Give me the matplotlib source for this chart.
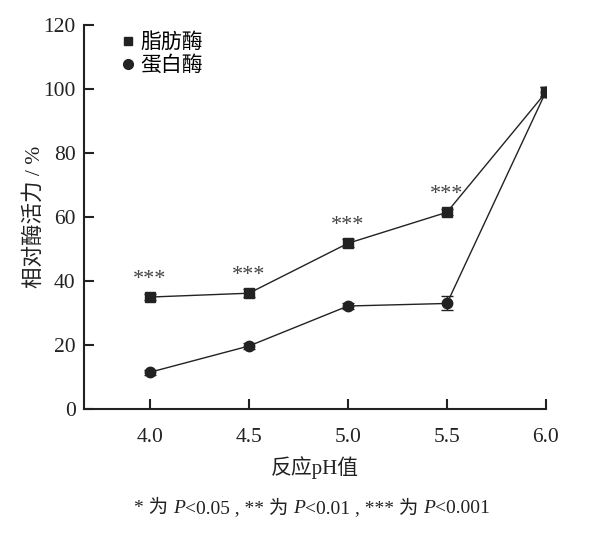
import matplotlib
matplotlib.use('Agg')
import matplotlib.pyplot as plt
from matplotlib.lines import Line2D

# data
ph = [4.0, 4.5, 5.0, 5.5, 6.0]
lipase = [35.0, 36.2, 51.8, 61.5, 99.0]
lipase_err = [1.0, 1.2, 1.2, 1.0, 1.5]
protease = [11.5, 19.7, 32.2, 33.0, 99.2]
protease_err = [0.8, 0.8, 1.0, 2.2, 1.5]
stars = ['***', '***', '***', '***', '']
note_parts = [('* 为 ', 'normal'), ('P', 'italic'), ('<0.05 , ** 为 ', 'normal'), ('P', 'italic'),
              ('<0.01 , *** 为 ', 'normal'), ('P', 'italic'), ('<0.001', 'normal')]

fams = ['Liberation Serif', 'Noto Sans CJK SC']
plt.rcParams['font.family'] = fams
plt.rcParams['axes.unicode_minus'] = False

fig = plt.figure(figsize=(5.96, 5.34), dpi=100)
ax = fig.add_axes([0.141, 0.234, 0.775, 0.719])

c = '#222222'
ax.errorbar(ph, lipase, yerr=lipase_err, marker='s', ms=7, color=c, lw=1.0,
            capsize=4, elinewidth=1)
ax.errorbar(ph, protease, yerr=protease_err, marker='o', ms=7.5, color=c, lw=1.0,
            capsize=4, elinewidth=1)

for x, y, s in zip(ph, lipase, stars):
    if s:
        ax.annotate(s, (x, y), xytext=(0, 6), textcoords='offset points',
                    ha='center', va='bottom', fontsize=16, color='#444444')

ax.set_xlim(3.667, 6.0)
ax.set_ylim(0, 120)
ax.set_xticks(ph)
ax.set_xticklabels(['4.0', '4.5', '5.0', '5.5', '6.0'])
ax.set_yticks([0, 20, 40, 60, 80, 100, 120])
ax.spines['top'].set_visible(False)
ax.spines['right'].set_visible(False)
for s in ['left', 'bottom']:
    ax.spines[s].set_linewidth(1.5)
    ax.spines[s].set_color(c)
ax.tick_params(axis='y', direction='in', length=7, width=1.5, labelsize=15.5, colors=c, pad=6)
ax.tick_params(axis='x', direction='in', length=7, width=1.5, labelsize=15.5, colors=c, pad=14)

ax.set_xlabel('反应pH值', fontsize=15, color=c, labelpad=6)
ax.set_ylabel('相对酶活力 / %', fontsize=15.5, color=c, labelpad=-1)

handles = [Line2D([], [], ls='none', marker='s', ms=6, color=c),
           Line2D([], [], ls='none', marker='o', ms=7, color=c)]
ax.legend(handles, ['脂肪酶', '蛋白酶'], loc='upper left', bbox_to_anchor=(0.055, 1.0),
          frameon=False, fontsize=15, handletextpad=0.1, handlelength=1.0,
          labelspacing=0.15, borderaxespad=0)

# footnote built piece by piece so that P can be italic
fig.canvas.draw()
r = fig.canvas.get_renderer()
pieces = []
for txt, st in note_parts:
    t = fig.text(0, 0.048, txt, fontsize=14, style=st, color=c, va='center',
                 family=fams)
    pieces.append(t)
widths = [p.get_window_extent(r).width for p in pieces]
x0 = (0.523 * fig.bbox.width - sum(widths) / 2)
for p, w in zip(pieces, widths):
    p.set_x(x0 / fig.bbox.width)
    x0 += w

fig.savefig('out.png', dpi=100)
